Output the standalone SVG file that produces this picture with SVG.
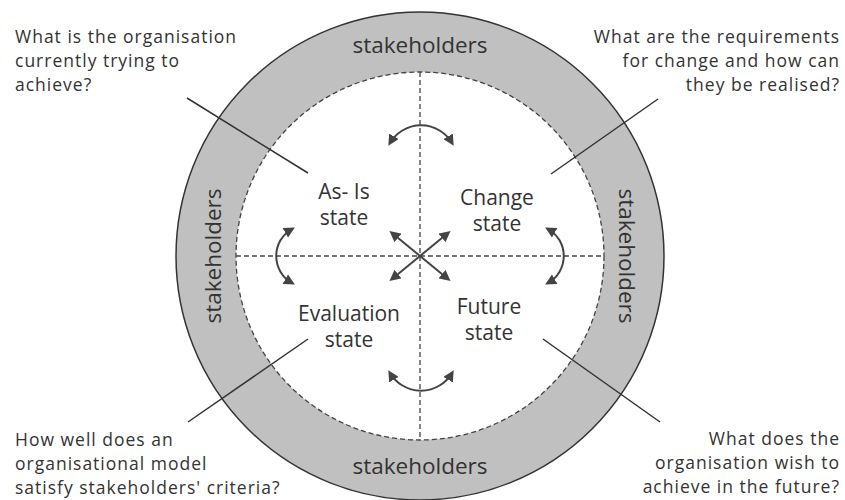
<svg xmlns="http://www.w3.org/2000/svg" width="845" height="500" viewBox="0 0 845 500">
  <style>
    text { font-family: "Open Sans", "DejaVu Sans", sans-serif; fill: #333; }
    .q { font-size: 17.5px; letter-spacing: 1px; }
    .st { font-size: 21px; text-anchor: middle; }
    .sh { font-size: 22.5px; text-anchor: middle; }
    .dash { fill: none; stroke: #444; stroke-width: 1.3; stroke-dasharray: 5 3; }
    .lead { stroke: #333; stroke-width: 1.5; fill: none; }
    .arr { fill: none; stroke: #444; stroke-width: 2; marker-start: url(#ah); marker-end: url(#ah); }
  </style>
  <defs>
    <marker id="ah" viewBox="0 0 10 10" refX="7" refY="5" markerWidth="11" markerHeight="11" markerUnits="userSpaceOnUse" orient="auto-start-reverse">
      <path d="M0,0 L10,5 L0,10 z" fill="#444"/>
    </marker>
  </defs>
  <rect width="845" height="500" fill="#fff"/>

  <!-- stakeholder ring -->
  <g id="ring">
    <circle cx="420" cy="256" r="244" fill="#c0c0c0" stroke="#333" stroke-width="1.5"/>
    <circle cx="420" cy="256" r="184" fill="#fff"/>
    <circle class="dash" cx="420" cy="256" r="184"/>
    <text class="sh" x="420" y="53">stakeholders</text>
    <text class="sh" x="420" y="474">stakeholders</text>
    <text class="sh" transform="translate(221,256) rotate(-90)">stakeholders</text>
    <text class="sh" transform="translate(619,256) rotate(90)">stakeholders</text>
  </g>

  <!-- quadrant dividers -->
  <g id="dividers">
    <line class="dash" x1="420" y1="72" x2="420" y2="440"/>
    <line class="dash" x1="236" y1="256" x2="604" y2="256"/>
  </g>

  <g id="as-is">
    <text class="st" x="344" y="199">As- Is</text>
    <text class="st" x="344" y="225">state</text>
  </g>
  <g id="change">
    <text class="st" x="497" y="205">Change</text>
    <text class="st" x="497" y="231">state</text>
  </g>
  <g id="evaluation">
    <text class="st" x="349" y="321">Evaluation</text>
    <text class="st" x="349" y="347">state</text>
  </g>
  <g id="future">
    <text class="st" x="489" y="314">Future</text>
    <text class="st" x="489" y="340">state</text>
  </g>

  <g id="questions" class="q">
    <text x="15" y="43">What is the organisation</text>
    <text x="15" y="67">currently trying to</text>
    <text x="15" y="91">achieve?</text>
    <text x="840" y="43" text-anchor="end">What are the requirements</text>
    <text x="840" y="67" text-anchor="end">for change and how can</text>
    <text x="840" y="91" text-anchor="end">they be realised?</text>
    <text x="15" y="446">How well does an</text>
    <text x="15" y="470">organisational model</text>
    <text x="15" y="494">satisfy stakeholders' criteria?</text>
    <text x="840" y="445" text-anchor="end">What does the</text>
    <text x="840" y="469" text-anchor="end">organisation wish to</text>
    <text x="840" y="493" text-anchor="end">achieve in the future?</text>
  </g>

  <g id="connectors">
    <line class="lead" x1="187" y1="98" x2="308" y2="173"/>
    <line class="lead" x1="658" y1="99" x2="551" y2="174"/>
    <line class="lead" x1="188" y1="422" x2="308" y2="339"/>
    <line class="lead" x1="660" y1="422" x2="543" y2="339"/>
    <path class="arr" d="M390,143 A36,36 0 0 1 452,143"/>
    <path class="arr" d="M390,373 A36,36 0 0 0 452,373"/>
    <path class="arr" d="M292,229 A31,31 0 0 0 292,283"/>
    <path class="arr" d="M548,229 A31,31 0 0 1 548,283"/>
    <line class="arr" x1="392" y1="233" x2="448" y2="279"/>
    <line class="arr" x1="448" y1="233" x2="392" y2="279"/>
  </g>
</svg>
